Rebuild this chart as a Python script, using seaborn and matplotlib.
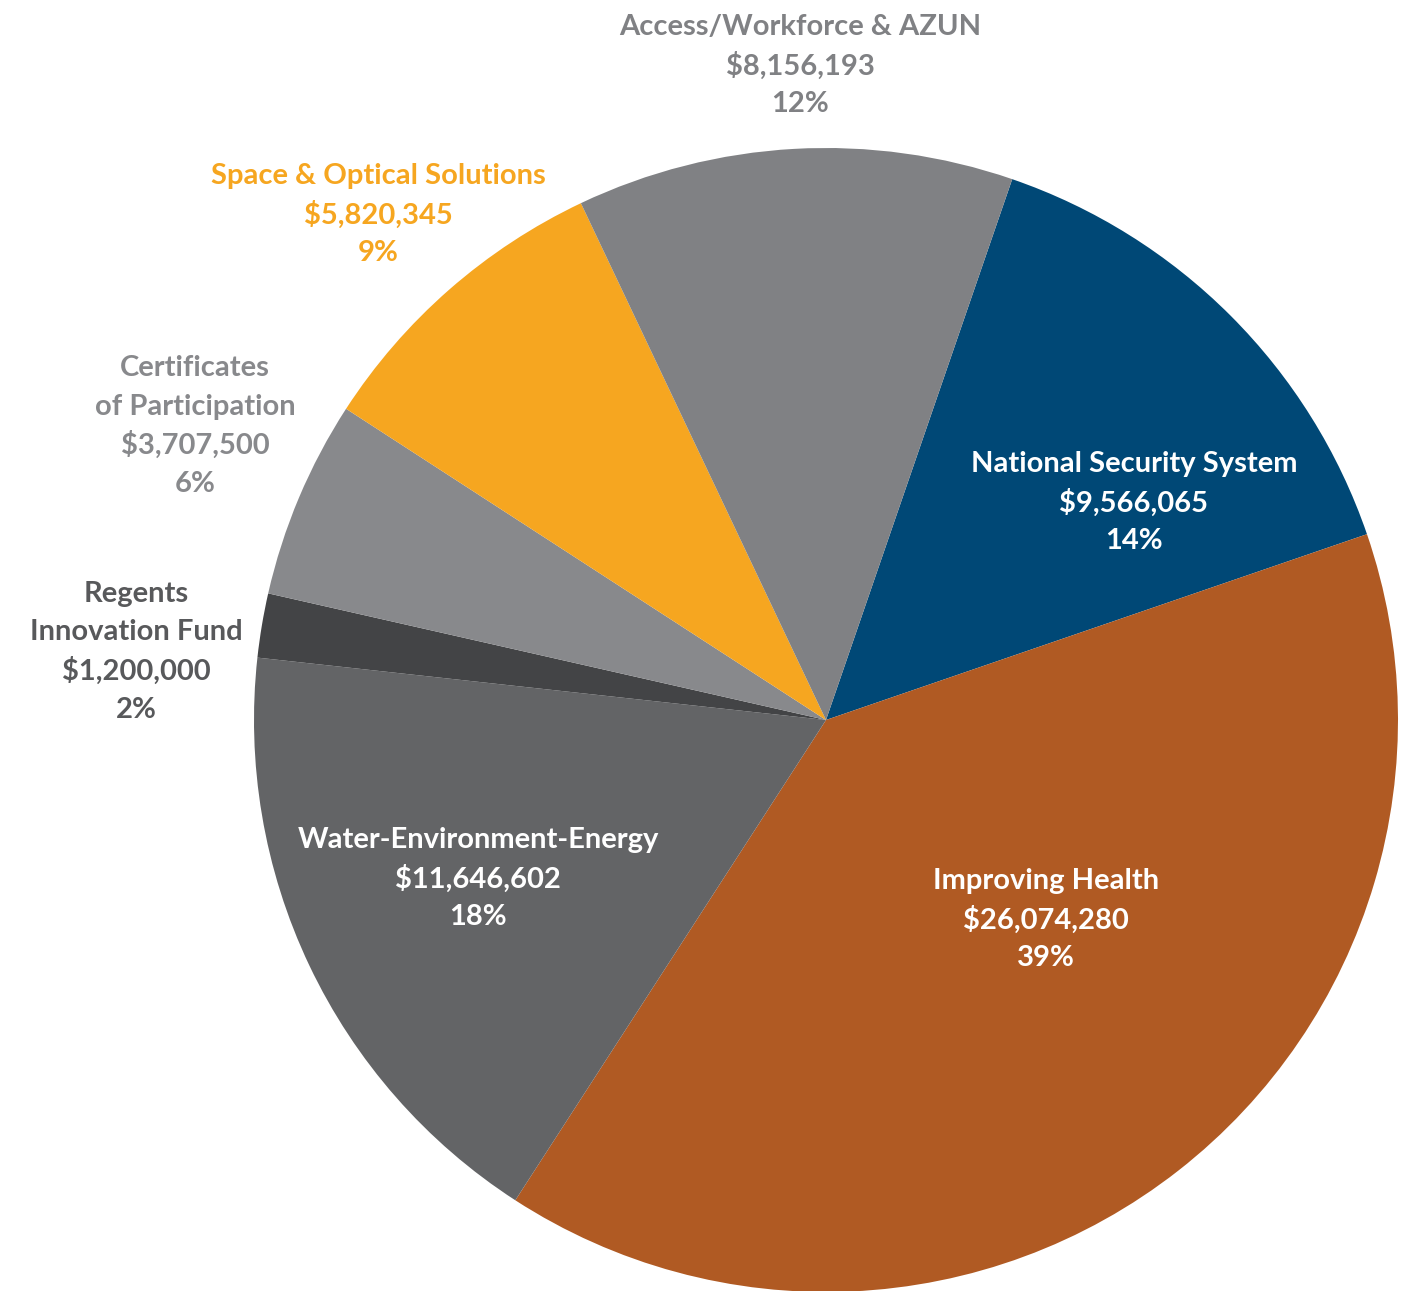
import matplotlib
matplotlib.use("Agg")
import matplotlib.pyplot as plt
import seaborn as sns

# ---- data ----
categories = ["National Security System", "Improving Health", "Water-Environment-Energy",
              "Regents\nInnovation Fund", "Certificates\nof Participation",
              "Space & Optical Solutions", "Access/Workforce & AZUN"]
amounts = [9566065, 26074280, 11646602, 1200000, 3707500, 5820345, 8156193]
percents = ["14%", "39%", "18%", "2%", "6%", "9%", "12%"]

# ---- styles ----
slice_colors = ["#004876", "#B05A23", "#636466", "#434446", "#88898C", "#F6A620", "#808184"]
text_colors = ["white", "white", "white", "#58595B", "#88898C", "#F6A620", "#808184"]
# label anchor (pixel centre of first line) in the reference image
label_px = [(1134, 464), (1046, 881), (478, 840), (136, 594), (195, 368), (378, 176), (800, 27)]

W, H = 1421, 1291
CX, CY, R = 826, 720, 572

sns.set_theme(style="white")
plt.rcParams['font.family'] = ['Lato', 'DejaVu Sans']

fig = plt.figure(figsize=(W / 100, H / 100), dpi=100)
ax = fig.add_axes([0, 0, 1, 1])
ax.pie(amounts, colors=slice_colors, startangle=71, counterclock=False,
       radius=1.0, center=(0, 0), wedgeprops=dict(linewidth=0))
ax.set_xlim(-CX / R, (W - CX) / R)
ax.set_ylim((CY - H) / R, CY / R)
ax.set_aspect('equal')
ax.axis('off')

step = 38.5
for cat, amt, pct, col, (px, py) in zip(categories, amounts, percents, text_colors, label_px):
    lines = cat.split("\n") + [f"${amt:,}", pct]
    for i, line in enumerate(lines):
        x = (px - CX) / R
        y = (CY - (py + i * step)) / R
        ax.text(x, y, line, ha='center', va='center', color=col,
                fontsize=21, fontweight='bold')

fig.savefig("out.png", dpi=100, facecolor="white")
